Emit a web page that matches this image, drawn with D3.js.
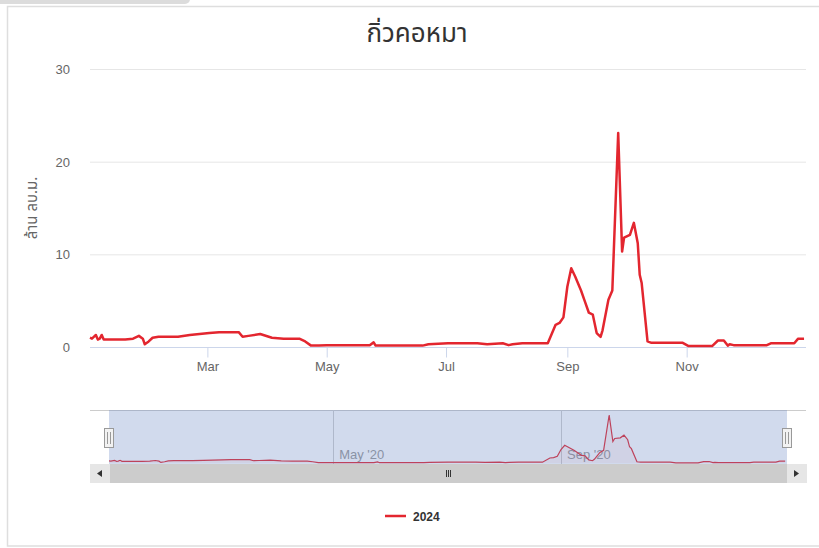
<!DOCTYPE html>
<html><head><meta charset="utf-8">
<script src="https://cdn.jsdelivr.net/npm/d3@7"></script>
<style>body{margin:0;background:#fff}svg{display:block}</style>
</head><body>
<svg id="c" width="819" height="548"></svg>
<script>
const chartTitle = "กิ่วคอหมา";
const yAxisTitle = "ล้าน ลบ.ม.";
const seriesName = "2024";
const dates = ["2024-01-01","2024-01-02","2024-01-04","2024-01-05","2024-01-06","2024-01-07","2024-01-08","2024-01-11","2024-01-19","2024-01-23","2024-01-26","2024-01-28","2024-01-29","2024-01-31","2024-02-02","2024-02-05","2024-02-15","2024-02-21","2024-03-02","2024-03-07","2024-03-17","2024-03-19","2024-03-22","2024-03-28","2024-04-03","2024-04-09","2024-04-17","2024-04-20","2024-04-23","2024-04-27","2024-05-01","2024-05-23","2024-05-25","2024-05-26","2024-06-19","2024-06-22","2024-07-02","2024-07-17","2024-07-22","2024-07-30","2024-08-02","2024-08-04","2024-08-09","2024-08-22","2024-08-26","2024-08-28","2024-08-30","2024-09-01","2024-09-03","2024-09-05","2024-09-08","2024-09-10","2024-09-12","2024-09-14","2024-09-16","2024-09-18","2024-09-19","2024-09-22","2024-09-24","2024-09-27","2024-09-29","2024-09-30","2024-10-03","2024-10-05","2024-10-07","2024-10-08","2024-10-09","2024-10-12","2024-10-14","2024-10-30","2024-11-02","2024-11-14","2024-11-17","2024-11-20","2024-11-22","2024-11-23","2024-11-25","2024-12-12","2024-12-14","2024-12-26","2024-12-28","2024-12-31"];
const values = [1.0,0.9,1.3,0.8,0.9,1.3,0.8,0.8,0.8,0.9,1.2,0.9,0.3,0.6,1.0,1.1,1.1,1.3,1.5,1.6,1.6,1.1,1.2,1.4,1.0,0.9,0.9,0.6,0.15,0.15,0.2,0.2,0.5,0.15,0.15,0.3,0.4,0.4,0.3,0.4,0.2,0.3,0.4,0.4,2.4,2.6,3.2,6.5,8.5,7.6,6.1,4.9,3.7,3.5,1.5,1.1,1.8,5.1,6.1,23.1,10.3,11.8,12.1,13.4,11.2,7.8,6.9,0.6,0.45,0.45,0.1,0.1,0.7,0.7,0.15,0.3,0.2,0.2,0.4,0.4,0.9,0.9];
const yTicks = [0,10,20,30];
const xTickDates = ["2024-03-01","2024-05-01","2024-07-01","2024-09-01","2024-11-01"];
const xTickLabels = ["Mar","May","Jul","Sep","Nov"];
const navTickDates = ["2024-05-01","2024-09-01"];
const navTickLabels = ["May '20","Sep '20"];

const parse = d3.timeParse("%Y-%m-%d");
const data = dates.map((d,i)=>({date:parse(d), value:values[i]}));
const domainX = [parse("2024-01-01"), parse("2025-01-01")];
const svg = d3.select("#c");
const font = "'Liberation Sans', Arial, sans-serif";
const thai = "'Noto Sans Thai','Noto Sans','DejaVu Sans',sans-serif";

// frame decorations
svg.append("rect").attr("x",-10).attr("y",-10).attr("width",200).attr("height",14).attr("rx",5).attr("fill","#dcdcdc");
svg.append("rect").attr("x",7.5).attr("y",6.5).attr("width",840).attr("height",539.5).attr("fill","none").attr("stroke","#dedede").attr("stroke-width",1.5);

// title
svg.append("text").attr("x",417).attr("y",42).attr("text-anchor","middle")
  .attr("font-family",thai).attr("font-size",26).attr("fill","#333").text(chartTitle);

// main scales
const x = d3.scaleTime().domain(domainX).range([90,806]);
const y = d3.scaleLinear().domain([0,30]).range([347,69]);

// grid
svg.append("g").selectAll("line").data(yTicks.filter(t=>t>0)).join("line")
  .attr("x1",90).attr("x2",806).attr("y1",d=>y(d)+0.5).attr("y2",d=>y(d)+0.5)
  .attr("stroke","#e6e6e6").attr("stroke-width",1);

// y axis labels
const yAx = svg.append("g").attr("transform","translate(90,0)")
  .call(d3.axisLeft(y).tickValues(yTicks).tickSize(0).tickPadding(20));
yAx.select(".domain").remove();
yAx.selectAll("text").attr("font-family",font).attr("font-size",13).attr("fill","#666").attr("dy","0.35em");

svg.append("text").attr("transform","translate(37,208) rotate(-90)").attr("text-anchor","middle")
  .attr("font-family",thai).attr("font-size",15).attr("fill","#666").text(yAxisTitle);

// x axis
const xAx = svg.append("g").attr("transform","translate(0,347.5)")
  .call(d3.axisBottom(x).tickValues(xTickDates.map(parse)).tickFormat((d,i)=>xTickLabels[i]).tickSize(10).tickSizeOuter(0).tickPadding(4));
xAx.select(".domain").attr("stroke","#ccd6eb").attr("d","M90,0H806");
xAx.selectAll(".tick line").attr("stroke","#ccd6eb");
xAx.selectAll("text").attr("font-family",font).attr("font-size",13).attr("fill","#666");

// main line
const line = d3.line().x(d=>x(d.date)).y(d=>y(d.value)).curve(d3.curveLinear);
svg.append("path").datum(data).attr("d",line).attr("fill","none")
  .attr("stroke","#e3262f").attr("stroke-width",2.5).attr("stroke-linejoin","round");

// navigator
const nx = d3.scaleTime().domain(domainX).range([109,787]);
const ny = d3.scaleLinear().domain([0,d3.max(values)]).range([463,415]);
svg.append("line").attr("x1",90).attr("x2",806).attr("y1",410.5).attr("y2",410.5).attr("stroke","#cccccc");
const ng = svg.append("g");
ng.selectAll("line").data(navTickDates.map(parse)).join("line")
  .attr("x1",d=>Math.round(nx(d))+0.5).attr("x2",d=>Math.round(nx(d))+0.5).attr("y1",410).attr("y2",464)
  .attr("stroke","#cfcfcf");
ng.selectAll("text").data(navTickDates.map(parse)).join("text")
  .attr("x",d=>nx(d)+6).attr("y",459).attr("font-family",font).attr("font-size",13).attr("fill","#999")
  .text((d,i)=>navTickLabels[i]);
const nline = d3.line().x(d=>nx(d.date)).y(d=>ny(d.value));
svg.append("path").datum(data).attr("d",d3.area().x(d=>nx(d.date)).y0(463).y1(d=>ny(d.value))).attr("fill","#e3262f").attr("fill-opacity",0.05);
svg.append("path").datum(data).attr("d",nline).attr("fill","none").attr("stroke","#e3262f").attr("stroke-width",1.2);
// mask
svg.append("rect").attr("x",109).attr("y",410).attr("width",678).attr("height",54).attr("fill","rgba(102,133,194,0.3)");

// scrollbar
svg.append("rect").attr("x",90).attr("y",464).attr("width",717).attr("height",19).attr("fill","#f2f2f2");
svg.append("rect").attr("x",109).attr("y",464).attr("width",678).attr("height",19).attr("fill","#cccccc");
[[90,"M102,470L97,473.5L102,477Z"],[787,"M794,470L799,473.5L794,477Z"]].forEach(([bx,p])=>{
  svg.append("rect").attr("x",bx).attr("y",464).attr("width",20).attr("height",19).attr("fill","#e6e6e6");
  svg.append("path").attr("d",p).attr("fill","#333");
});
[-2,0,2].forEach(o=>svg.append("line").attr("x1",448+o+0.5).attr("x2",448+o+0.5).attr("y1",470).attr("y2",477).attr("stroke","#333"));

// handles
[109,787].forEach(hx=>{
  svg.append("rect").attr("x",hx-4.5).attr("y",428.5).attr("width",9).attr("height",19).attr("fill","#f2f2f2").attr("stroke","#999");
  [-1.5,1.5].forEach(o=>svg.append("line").attr("x1",hx+o).attr("x2",hx+o).attr("y1",432).attr("y2",444).attr("stroke","#999"));
});

// legend
svg.append("line").attr("x1",385).attr("x2",406).attr("y1",516).attr("y2",516).attr("stroke","#e3262f").attr("stroke-width",2.5);
svg.append("text").attr("x",413).attr("y",520.5).attr("font-family",font).attr("font-size",12).attr("font-weight","bold").attr("fill","#333").text(seriesName);
</script>
</body></html>
